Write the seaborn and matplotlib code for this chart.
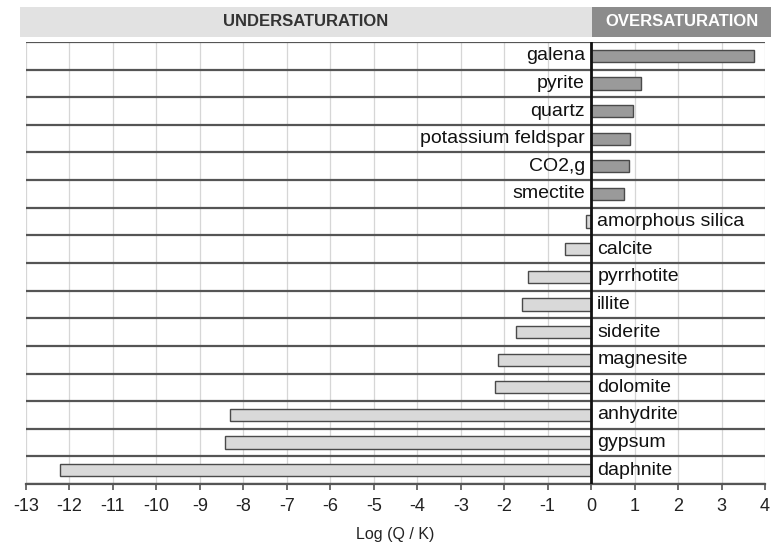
import matplotlib
matplotlib.use("Agg")
import matplotlib.pyplot as plt
import matplotlib.patches as mpatches
import seaborn as sns
import pandas as pd

minerals = ["galena", "pyrite", "quartz", "potassium feldspar", "CO2,g", "smectite",
            "amorphous silica", "calcite", "pyrrhotite", "illite", "siderite",
            "magnesite", "dolomite", "anhydrite", "gypsum", "daphnite"]
log_qk = [3.74, 1.14, 0.96, 0.89, 0.87, 0.76,
          -0.12, -0.59, -1.45, -1.59, -1.73,
          -2.14, -2.20, -8.31, -8.43, -12.22]
tick_values = list(range(-13, 5))
tick_labels = [str(v) for v in tick_values]
banner_labels = ["UNDERSATURATION", "OVERSATURATION"]
x_label = "Log (Q / K)"

sns.set_theme(style="white")
plt.rcParams['font.family'] = ['Liberation Sans', 'DejaVu Sans']
plt.rcParams['axes.unicode_minus'] = False

df = pd.DataFrame({"mineral": minerals, "value": log_qk})
df["state"] = ["over" if v > 0 else "under" for v in df["value"]]

fig = plt.figure(figsize=(7.71, 5.45), dpi=100)
W, H = 771, 545
ax = fig.add_axes([26 / W, (H - 484) / H, (765 - 26) / W, (484 - 42) / H])

# vertical grid
for v in tick_values:
    ax.axvline(v, color="#d6d6d6", lw=0.9, zorder=0)

sns.barplot(data=df, y="mineral", x="value", hue="state", dodge=False,
            palette={"over": "#9a9a9a", "under": "#d9d9d9"}, legend=False,
            width=0.44, edgecolor="#4a4a4a", linewidth=1.0, ax=ax, zorder=3,
            orient="h")

n = len(minerals)
for i in range(-1, n):
    ax.axhline(i + 0.5, color="#555555", lw=1.6, zorder=2)
ax.axvline(0, color="#111111", lw=2.0, zorder=5)

for i, (m, v) in enumerate(zip(minerals, log_qk)):
    if v > 0:
        ax.text(-0.14, i, m, ha="right", va="center", fontsize=14, color="#111111", zorder=6)
    else:
        ax.text(0.14, i, m, ha="left", va="center", fontsize=14, color="#111111", zorder=6)

ax.set_xlim(-13, 4)
ax.set_ylim(n - 0.5, -0.5)
ax.set_yticks([])
ax.set_ylabel("")
ax.set_xticks(tick_values)
ax.set_xticklabels(tick_labels, fontsize=13, color="#222222")
ax.tick_params(axis="x", direction="out", length=4, width=1.2, color="#555555", pad=6, bottom=True)
ax.set_xlabel(x_label, fontsize=11.5, color="#222222", labelpad=9)
for s in ["left", "top", "right"]:
    ax.spines[s].set_visible(False)
ax.spines["bottom"].set_color("#555555")
ax.spines["bottom"].set_linewidth(1.6)

# banner
y0 = (H - 37) / H
bh = 30 / H
zx = 592
fig.patches.append(mpatches.Rectangle((20 / W, y0), (zx - 20) / W, bh, transform=fig.transFigure,
                                      facecolor="#e2e2e2", edgecolor="none", zorder=0))
fig.patches.append(mpatches.Rectangle((zx / W, y0), (W - zx) / W, bh, transform=fig.transFigure,
                                      facecolor="#8c8c8c", edgecolor="none", zorder=0))
fig.text((20 + zx) / 2 / W, y0 + bh / 2, banner_labels[0], ha="center", va="center",
         fontsize=12, fontweight="bold", color="#333333")
fig.text((zx + W) / 2 / W, y0 + bh / 2, banner_labels[1], ha="center", va="center",
         fontsize=12, fontweight="bold", color="white")

fig.savefig("out.png", dpi=100)
